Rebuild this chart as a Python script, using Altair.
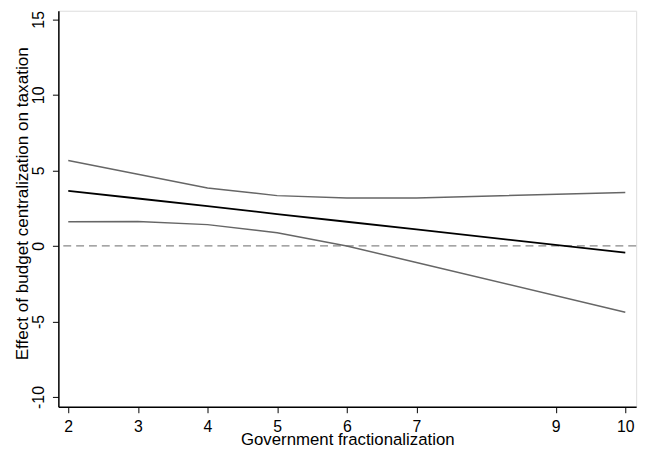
import altair as alt
import pandas as pd

x_vals = [2, 3, 4, 5, 6, 7, 10]
estimate = [3.65, 3.14, 2.63, 2.11, 1.6, 1.09, -0.45]
upper = [5.65, 4.74, 3.84, 3.33, 3.17, 3.17, 3.54]
lower = [1.6, 1.62, 1.41, 0.87, 0.0, -1.1, -4.39]
x_ticks = [2, 3, 4, 5, 6, 7, 9, 10]
y_ticks = [-10, -5, 0, 5, 10, 15]

rows = []
for i, xv in enumerate(x_vals):
    rows.append({"x": xv, "y": upper[i], "s": "upper"})
    rows.append({"x": xv, "y": lower[i], "s": "lower"})
    rows.append({"x": xv, "y": estimate[i], "s": "est"})
df = pd.DataFrame(rows)

FONT = "Liberation Sans"
xs = alt.Scale(domain=[1.858, 10.156], nice=False, zero=False)
ys = alt.Scale(domain=[-10.65, 15.57], nice=False, zero=False)

xax = alt.Axis(values=x_ticks, grid=False, title="Government fractionalization", format="d",
               labelFont=FONT, labelFontSize=16, titleFont=FONT, titleFontSize=17,
               titleFontWeight="normal", labelColor="black", titleColor="black",
               domainColor="black", tickColor="black", tickSize=6, labelPadding=6,
               titlePadding=-3, domainWidth=1.5, labelFlush=False, labelOverlap=False)
yax = alt.Axis(values=y_ticks, grid=False, title="Effect of budget centralization on taxation",
               format="d",
               labelFont=FONT, labelFontSize=16, titleFont=FONT, titleFontSize=17.3,
               titleFontWeight="normal", labelColor="black", titleColor="black",
               domainColor="black", tickColor="black", tickSize=6, labelAngle=270,
               labelAlign="center", labelBaseline="bottom", labelPadding=6,
               titleX=-27, titleY=195, titleAngle=270, titleAlign="center",
               titleBaseline="bottom",
               domainWidth=1.5, labelFlush=False, labelOverlap=False,
               labelExpr="replace(datum.label, '\u2212', '-')")

base = alt.Chart(df)
ci = base.transform_filter(alt.datum.s != "est").mark_line(color="#666666", strokeWidth=1.5).encode(
    x=alt.X("x:Q", scale=xs, axis=xax),
    y=alt.Y("y:Q", scale=ys, axis=yax),
    detail="s:N",
)
est = base.transform_filter(alt.datum.s == "est").mark_line(color="black", strokeWidth=1.8).encode(
    x=alt.X("x:Q", scale=xs),
    y=alt.Y("y:Q", scale=ys),
)
zero = alt.Chart(pd.DataFrame({"y": [0]})).mark_rule(color="#888888", strokeDash=[8, 5], strokeWidth=1.3).encode(
    y=alt.Y("y:Q", scale=ys)
)

chart = alt.layer(zero, ci, est).properties(
    width=585, height=401,
    autosize=alt.AutoSizeParams(type="none"),
    padding={"left": 51, "top": 0, "right": 12, "bottom": 43},
).configure_view(stroke="#666666", strokeWidth=1.2).configure(background="white")

chart.save("out.html", embed_options={"renderer": "svg", "actions": False})
